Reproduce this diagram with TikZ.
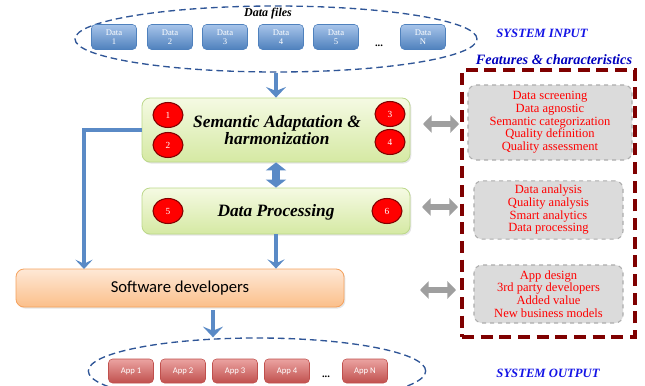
\documentclass[tikz,border=0pt]{standalone}
\usepackage{fontspec}
\setmainfont{Liberation Serif}
\newfontfamily\carl{Carlito}
\usetikzlibrary{arrows.meta,shapes.geometric,shadows,calc}
\definecolor{dblue}{HTML}{2F5597}
\definecolor{ablue}{HTML}{5A8AC6}
\definecolor{boxtop}{HTML}{A7C4EA}
\definecolor{boxbot}{HTML}{4F81BD}
\definecolor{grtop}{HTML}{F5FAE3}
\definecolor{grbot}{HTML}{D5E9A3}
\definecolor{grdraw}{HTML}{BCD88A}
\definecolor{ortop}{HTML}{FEE8D6}
\definecolor{orbot}{HTML}{FBBF8A}
\definecolor{ordraw}{HTML}{F5A25E}
\definecolor{aptop}{HTML}{EBA3A1}
\definecolor{apbot}{HTML}{C0504D}
\definecolor{darkred}{HTML}{7F0000}
\definecolor{sysblue}{HTML}{1414E6}
\begin{document}
\begin{tikzpicture}[x=0.75pt,y=-0.75pt,
  databox/.style={rounded corners=3pt, top color=boxtop, bottom color=boxbot, draw=boxbot,
    minimum width=33.75pt, minimum height=18.75pt, inner sep=0pt, text=white, align=center,
    font=\fontsize{6.5}{6.8}\selectfont},
  appbox/.style={rounded corners=3pt, top color=aptop, bottom color=apbot, draw=apbot,
    minimum width=33.75pt, minimum height=18pt, inner sep=0pt, text=white,
    font=\carl\fontsize{6.5}{7}\selectfont},
  greenbox/.style={rounded corners=6pt, top color=grtop, bottom color=grbot, draw=grdraw,
    line width=0.6pt, drop shadow={opacity=0.2, shadow xshift=1pt, shadow yshift=-1.2pt}},
  numdot/.style={ellipse, fill=red, draw=red!50!black, line width=0.8pt,
    minimum width=22.5pt, minimum height=18.75pt, inner sep=0pt, text=white,
    font=\fontsize{7}{7}\selectfont},
  featbox/.style={rounded corners=6pt, fill=gray!28, draw=gray!65, dashed, line width=0.8pt,
    text=red, align=center, font=\fontsize{9.4}{9.5}\selectfont},
  dashell/.style={ellipse, draw=dblue, line width=1pt, dash pattern=on 5pt off 3pt, inner sep=0pt},
  barrow/.style={draw=ablue, line width=3pt, -{Stealth[length=8pt,width=15pt,inset=3pt]}},
  tarrow/.style={draw=ablue, line width=2.6pt, -{Stealth[length=7pt,width=13pt,inset=3pt]}},
  darrow/.style={draw=ablue, line width=5.5pt, {Triangle[length=6pt,width=15pt]}-{Triangle[length=6pt,width=15pt]}},
  garrow/.style={draw=gray!75, line width=5pt, {Triangle[length=6.5pt,width=13pt]}-{Triangle[length=6.5pt,width=13pt]}},
  syslabel/.style={text=sysblue, font=\bfseries\itshape\fontsize{9.5}{10}\selectfont},
  titlefont/.style={font=\bfseries\itshape\fontsize{13}{13}\selectfont}
]
\clip (0,0) rectangle (645,385);
\fill[white] (0,0) rectangle (645,385);

% top input ellipse
\node[dashell, minimum width=301.5pt, minimum height=49.5pt] (inell) at (276,39) {};
\node[font=\bfseries\itshape\fontsize{9}{9}\selectfont] (dfiles) at (268,14) {Data files};
\node[databox] (d1) at (114,37) {Data\\1};
\node[databox] (d2) at (170,37) {Data\\2};
\node[databox] (d3) at (225,37) {Data\\3};
\node[databox] (d4) at (281,37) {Data\\4};
\node[databox] (d5) at (336,37) {Data\\5};
\node[font=\bfseries\fontsize{8}{9}\selectfont] (ddots) at (379,46) {...};
\node[databox] (dN) at (423,37) {Data\\N};

% main boxes
\node[greenbox, minimum width=201pt, minimum height=48pt] (sem) at (276,130) {};
\node[titlefont, align=center] (semt) at (277,130) {Semantic Adaptation \&\\harmonization};
\node[numdot] (n1) at (168,115) {1};
\node[numdot] (n2) at (168,145) {2};
\node[numdot] (n3) at (390,114) {3};
\node[numdot] (n4) at (390,142) {4};

\node[greenbox, minimum width=201pt, minimum height=34.5pt] (proc) at (276,211) {};
\node[titlefont] (proct) at (276,212) {Data Processing};
\node[numdot] (n5) at (168,211) {5};
\node[numdot] (n6) at (387,211) {6};

\node[rounded corners=6pt, top color=ortop, bottom color=orbot, draw=ordraw, line width=0.6pt,
  minimum width=246pt, minimum height=28.5pt,
  drop shadow={opacity=0.2, shadow xshift=1pt, shadow yshift=-1.2pt},
  font=\carl\fontsize{12.5}{13}\selectfont] (sw) at (180,288) {Software developers};

% bottom output ellipse
\node[dashell, minimum width=253pt, minimum height=49.5pt] (outell) at (257,371) {};
\node[appbox] (a1) at (131,371) {App 1};
\node[appbox] (a2) at (183,371) {App 2};
\node[appbox] (a3) at (235,371) {App 3};
\node[appbox] (a4) at (287,371) {App 4};
\node[font=\bfseries\fontsize{8}{9}\selectfont] (adots) at (326,377) {...};
\node[appbox] (aN) at (365,371) {App N};

% blue connectors
\coordinate (swl) at (84,269);
\draw[barrow] (inell.south) -- (sem.north);
\draw[darrow] (sem.south) -- (proc.north);
\draw[tarrow] (proc.south) -- (proc.south |- sw.north);
\draw[tarrow] (sem.west) -| (swl);
\coordinate (swb) at (213,310);
\draw[barrow] (swb) -- (outell.north -| swb);

% features panel
\node[syslabel] (sysin) at (542,33) {SYSTEM INPUT};
\node[syslabel, text=blue!75!black, font=\bfseries\itshape\fontsize{10.7}{11}\selectfont] (feat) at (554,60) {Features \& characteristics};
\node[syslabel] (sysout) at (548,373) {SYSTEM OUTPUT};
\node[draw=darkred, line width=3pt, dash pattern=on 9pt off 5pt, minimum width=129.75pt, minimum height=200.25pt, inner sep=0pt] (panel) at (548.5,203.5) {};

\node[featbox, minimum width=123pt, minimum height=56.25pt] (f1) at (550,122.5)
  {Data screening\\Data agnostic\\Semantic categorization\\Quality definition\\Quality assessment};
\node[featbox, minimum width=111.75pt, minimum height=42pt] (f2) at (548.5,210)
  {Data analysis\\Quality analysis\\Smart analytics\\Data processing};
\node[featbox, minimum width=111.75pt, minimum height=43.5pt] (f3) at (548.5,294)
  {App design\\3rd party developers\\Added value\\New business models};

% gray double arrows
\coordinate (g1a) at (423,124); \coordinate (g1b) at (459,124);
\coordinate (g2a) at (422,207); \coordinate (g2b) at (458,207);
\coordinate (g3a) at (420,290); \coordinate (g3b) at (456,290);
\draw[garrow] (g1a) -- (g1b);
\draw[garrow] (g2a) -- (g2b);
\draw[garrow] (g3a) -- (g3b);
\end{tikzpicture}
\end{document}
